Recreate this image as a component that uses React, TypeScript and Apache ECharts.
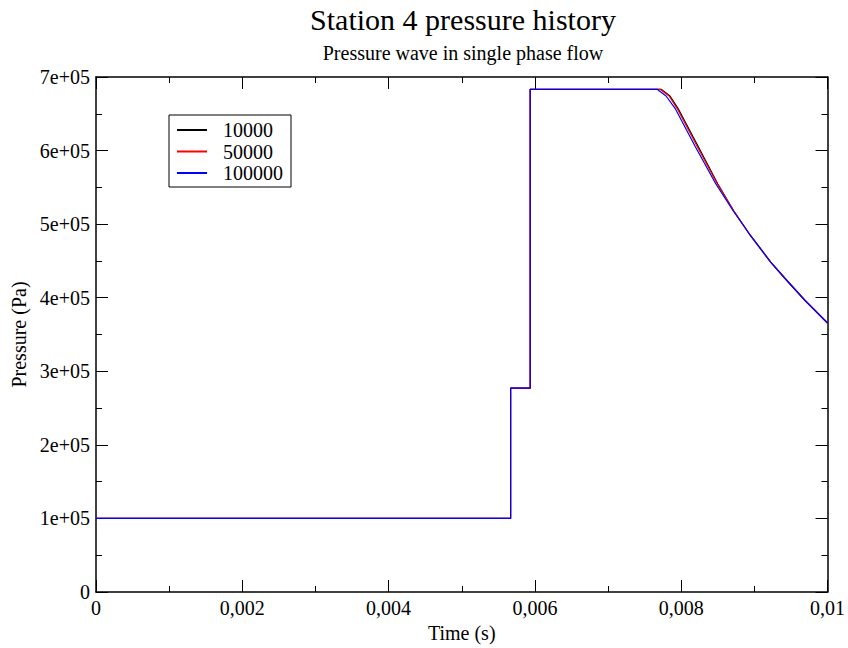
import React, { useEffect, useRef } from "react";
import * as echarts from "echarts";

// ---- data ----
const seriesNames = ["10000", "50000", "100000"];
const seriesColors = ["#000000", "#ff0000", "#0000ff"];

const time10000 = [0, 0.005668, 0.005668, 0.005936, 0.005936, 0.007725, 0.007847, 0.007956, 0.008229, 0.008501, 0.008719, 0.008951, 0.009223, 0.009414, 0.009687, 0.01];
const pres10000 = [1.0e5, 1.0e5, 2.77e5, 2.77e5, 6.833e5, 6.833e5, 6.742e5, 6.574e5, 6.062e5, 5.546e5, 5.179e5, 4.839e5, 4.485e5, 4.268e5, 3.969e5, 3.656e5];

const time50000 = [0, 0.005668, 0.005668, 0.005936, 0.005936, 0.007711, 0.007834, 0.007943, 0.008215, 0.008494, 0.008719, 0.008951, 0.009223, 0.009414, 0.009687, 0.01];
const pres50000 = [1.0e5, 1.0e5, 2.77e5, 2.77e5, 6.833e5, 6.833e5, 6.742e5, 6.574e5, 6.062e5, 5.546e5, 5.179e5, 4.839e5, 4.485e5, 4.268e5, 3.969e5, 3.656e5];

const time100000 = [0, 0.005668, 0.005668, 0.005936, 0.005936, 0.00767, 0.007793, 0.007916, 0.008188, 0.008474, 0.008712, 0.008951, 0.009223, 0.009414, 0.009687, 0.01];
const pres100000 = [1.0e5, 1.0e5, 2.77e5, 2.77e5, 6.833e5, 6.833e5, 6.742e5, 6.574e5, 6.062e5, 5.546e5, 5.179e5, 4.839e5, 4.485e5, 4.268e5, 3.969e5, 3.656e5];

const xMin = 0;
const xMax = 0.01;
const xInterval = 0.002;
const yMin = 0;
const yMax = 7e5;
const yInterval = 1e5;

const titleText = "Station 4 pressure history";
const subtitleText = "Pressure wave in single phase flow";
const xName = "Time (s)";
const yName = "Pressure (Pa)";

const FONT = "'Liberation Serif', 'Times New Roman', serif";

const zip = (t: number[], p: number[]) => t.map((v, i) => [v, p[i]]);

const fmtX = (v: number) => (v === 0 ? "0" : String(+v.toFixed(4)).replace(".", ","));
const fmtY = (v: number) => (v === 0 ? "0" : `${Math.round(v / 1e5)}e+05`);

export default function App() {
  const ref = useRef<HTMLDivElement>(null);

  useEffect(() => {
    if (!ref.current) return;
    const chart = echarts.init(ref.current, undefined, { renderer: "svg" });

    const tickCommon = {
      axisLine: { show: true, onZero: false, lineStyle: { color: "#000", width: 1.5 } },
      axisTick: { show: true, inside: true, length: 12, lineStyle: { color: "#000", width: 1 } },
      minorTick: { show: true, splitNumber: 2, length: 6, lineStyle: { color: "#000", width: 1 } },
      splitLine: { show: false },
      minorSplitLine: { show: false },
    };

    const data = [zip(time10000, pres10000), zip(time50000, pres50000), zip(time100000, pres100000)];

    chart.setOption({
      animation: false,
      backgroundColor: "#ffffff",
      title: [
        {
          text: titleText,
          left: 463,
          top: 4,
          padding: 0,
          textAlign: "center",
          textVerticalAlign: "top",
          textStyle: { fontFamily: FONT, fontSize: 30, fontWeight: "normal", color: "#000", lineHeight: 30 },
        },
        {
          text: subtitleText,
          left: 463,
          top: 43,
          padding: 0,
          textAlign: "center",
          textVerticalAlign: "top",
          textStyle: { fontFamily: FONT, fontSize: 20, fontWeight: "normal", color: "#000", lineHeight: 20 },
        },
      ],
      legend: {
        orient: "vertical",
        left: 169,
        top: 115,
        padding: [5, 8, 4, 8],
        itemGap: 1.5,
        itemWidth: 30,
        itemHeight: 2,
        icon: "rect",
        borderColor: "#000",
        borderWidth: 1,
        backgroundColor: "#fff",
        data: seriesNames,
        textStyle: { fontFamily: FONT, fontSize: 20, color: "#000", lineHeight: 20, padding: [0, 0, 0, 11] },
      },
      grid: { left: 96, right: 18, top: 77, bottom: 56, containLabel: false },
      xAxis: [
        {
          type: "value",
          min: xMin,
          max: xMax,
          interval: xInterval,
          position: "bottom",
          name: xName,
          nameLocation: "middle",
          nameGap: 30,
          nameTextStyle: { fontFamily: FONT, fontSize: 20, color: "#000" },
          axisLabel: { show: true, margin: 6, formatter: fmtX, fontFamily: FONT, fontSize: 20, color: "#000" },
          ...tickCommon,
        },
        {
          type: "value",
          min: xMin,
          max: xMax,
          interval: xInterval,
          position: "top",
          axisLabel: { show: false },
          ...tickCommon,
        },
      ],
      yAxis: [
        {
          type: "value",
          min: yMin,
          max: yMax,
          interval: yInterval,
          position: "left",
          name: yName,
          nameLocation: "middle",
          nameGap: 66,
          nameTextStyle: { fontFamily: FONT, fontSize: 20, color: "#000" },
          axisLabel: { show: true, margin: 6, formatter: fmtY, fontFamily: FONT, fontSize: 20, color: "#000" },
          ...tickCommon,
        },
        {
          type: "value",
          min: yMin,
          max: yMax,
          interval: yInterval,
          position: "right",
          axisLabel: { show: false },
          ...tickCommon,
        },
      ],
      series: seriesNames.map((name, i) => ({
        name,
        type: "line",
        xAxisIndex: 0,
        yAxisIndex: 0,
        data: data[i],
        showSymbol: false,
        symbol: "none",
        color: seriesColors[i],
        lineStyle: { color: seriesColors[i], width: 1.2 },
        z: 2 + i,
      })),
    });

    return () => chart.dispose();
  }, []);

  return (
    <div
      ref={ref}
      style={{ position: "fixed", left: 0, top: 0, width: 848, height: 648, background: "#fff" }}
    />
  );
}
